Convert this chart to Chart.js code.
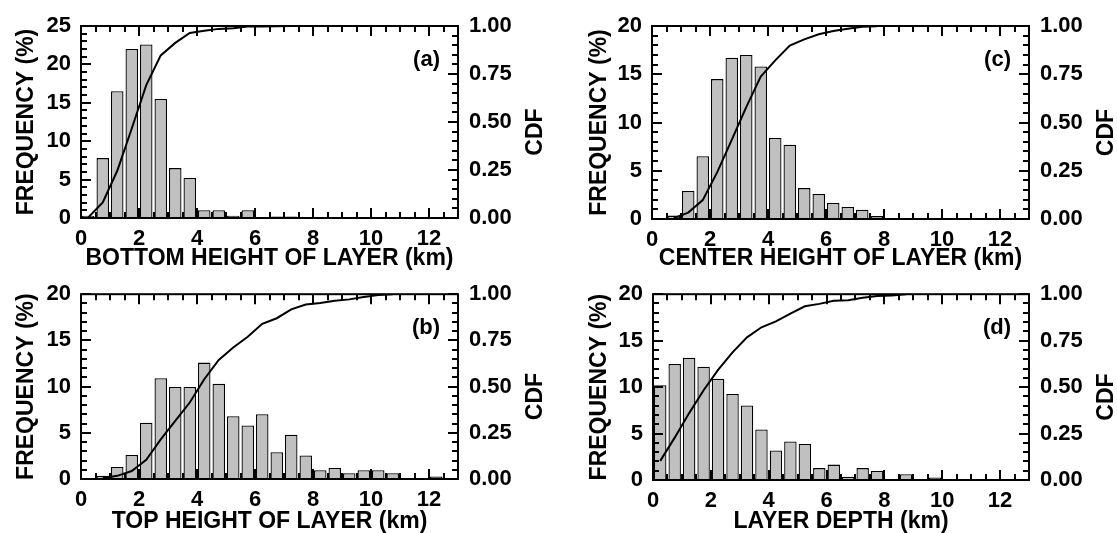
<!DOCTYPE html>
<html lang="en">
<head>
  <meta charset="UTF-8" />
  <title>Layer height histograms</title>
  <style>
    body {
      margin: 0;
      background: #fff;
      width: 1117px;
      height: 533px;
      position: relative;
      overflow: hidden;
    }
    canvas { position: absolute; }
    #panelA { left: 0; top: 0; }
    #panelC { left: 556px; top: 0; }
    #panelB { left: 0; top: 270px; }
    #panelD { left: 556px; top: 270px; }
  </style>
</head>
<body>
  <canvas id="panelA" width="556" height="270"></canvas>
  <canvas id="panelC" width="561" height="270"></canvas>
  <canvas id="panelB" width="556" height="263"></canvas>
  <canvas id="panelD" width="561" height="263"></canvas>

  <script src="https://cdn.jsdelivr.net/npm/chart.js"></script>
  <script>
// bin centres (0.5 km bins)
const binMid = [0.25, 0.75, 1.25, 1.75, 2.25, 2.75, 3.25, 3.75, 4.25, 4.75, 5.25, 5.75, 6.25,
                6.75, 7.25, 7.75, 8.25, 8.75, 9.25, 9.75, 10.25, 10.75, 11.25, 11.75, 12.25, 12.75];

// (a) bottom height
const freqA = [0.3, 7.8, 16.5, 22.0, 22.6, 15.5, 6.5, 5.2, 1.0, 1.0, 0.3, 1.0, null, 0.2, 0.2,
               null, null, null, null, null, null, null, null, null, null, null];
const cdfA  = [0.003, 0.081, 0.246, 0.466, 0.692, 0.847, 0.912, 0.964, 0.975, 0.985, 0.988, 0.997, 0.997, 0.999, 1.0,
               null, null, null, null, null, null, null, null, null, null, null];

// (c) center height
const freqC = [null, 0.35, 2.9, 6.5, 14.5, 16.7, 17.0, 15.8, 8.4, 7.7, 3.2, 2.6, 1.66, 1.25, 0.97, 0.3,
               null, null, null, null, null, null, null, null, null, null];
const cdfC  = [null, 0.004, 0.033, 0.098, 0.243, 0.41, 0.58, 0.738, 0.822, 0.899, 0.931, 0.957, 0.974, 0.986, 0.996, 0.999,
               null, null, null, null, null, null, null, null, null, null];

// (b) top height
const freqB = [null, 0.35, 1.3, 2.6, 6.1, 10.9, 9.95, 9.95, 12.6, 10.3, 6.8, 5.8, 7.0, 2.9, 4.8, 2.55,
               0.94, 1.2, 0.63, 0.94, 0.94, 0.63, null, null, 0.28, null];
const cdfB  = [null, 0.004, 0.017, 0.043, 0.104, 0.214, 0.314, 0.414, 0.54, 0.644, 0.712, 0.77, 0.84, 0.87, 0.918, 0.944,
               0.953, 0.965, 0.972, 0.985, 0.995, 1.0, null, null, null, null];

// (d) layer depth
const freqD = [10.2, 12.5, 13.15, 12.2, 10.9, 9.27, 8.03, 5.43, 3.18, 4.15, 3.88, 1.28, 1.66, 0.35, 1.28, 0.97,
               null, 0.62, null, 0.28, null, null, null, null, null, null];
const cdfD  = [0.103, 0.228, 0.36, 0.483, 0.593, 0.687, 0.768, 0.822, 0.854, 0.896, 0.935, 0.948, 0.965, 0.968, 0.981, 0.99,
               0.993, 1.0, null, null, null, null, null, null, null, null];

// tick labels
const xTicks = [0, 2, 4, 6, 8, 10, 12];
const freqTicks25 = [0, 5, 10, 15, 20, 25];
const freqTicks20 = [0, 5, 10, 15, 20];
const cdfTicks = [0, 0.25, 0.5, 0.75, 1];

const FONT = '"Liberation Sans", Arial, sans-serif';

// frame box, inward tick marks, right-hand CDF title and panel letter
const frameTicks = {
  id: 'frameTicks',
  afterDatasetsDraw(chart, args, opts) {
    const { ctx, chartArea: a } = chart;
    const { x, y, y1 } = chart.scales;
    ctx.save();
    ctx.strokeStyle = '#000';
    ctx.lineWidth = 2;
    ctx.beginPath();
    for (let v = 0; v <= 13.001; v += 0.5) {
      const px = Math.round(x.getPixelForValue(v));
      const len = (v % 2 === 0) ? 10 : 6;
      ctx.moveTo(px, a.bottom); ctx.lineTo(px, a.bottom - len);
      ctx.moveTo(px, a.top); ctx.lineTo(px, a.top + len);
    }
    for (let v = 0; v <= opts.yMax; v += 1) {
      const py = Math.round(y.getPixelForValue(v));
      const len = (v % 5 === 0) ? 10 : 6;
      ctx.moveTo(a.left, py); ctx.lineTo(a.left + len, py);
    }
    for (let i = 0; i <= 20; i++) {
      const py = Math.round(y1.getPixelForValue(i * 0.05));
      const len = (i % 5 === 0) ? 10 : 6;
      ctx.moveTo(a.right, py); ctx.lineTo(a.right - len, py);
    }
    ctx.stroke();
    ctx.strokeRect(a.left, a.top, a.right - a.left, a.bottom - a.top);

    ctx.fillStyle = '#000';
    ctx.font = 'bold 22px ' + FONT;
    ctx.textAlign = 'right';
    ctx.textBaseline = 'middle';
    ctx.fillText(opts.letter, a.right - 18, a.top + 34);

    ctx.font = 'bold 23px ' + FONT;
    ctx.translate(a.right + 78, (a.top + a.bottom) / 2 + 10);
    ctx.rotate(-Math.PI / 2);
    ctx.textAlign = 'center';
    ctx.fillText('CDF', 0, 0);
    ctx.restore();
  }
};

function setTicks(values) {
  return scale => { scale.ticks = values.map(v => ({ value: v })); };
}

function makePanel(id, freq, cdf, opt) {
  const canvas = document.getElementById(id);
  const W = canvas.width, H = canvas.height;
  return new Chart(canvas, {
    type: 'bar',
    data: {
      datasets: [
        {
          type: 'line',
          data: binMid.map((m, i) => ({ x: m, y: cdf[i] })),
          yAxisID: 'y1',
          borderColor: '#000',
          borderWidth: 2,
          pointRadius: 0,
          tension: 0,
          spanGaps: false
        },
        {
          type: 'bar',
          data: binMid.map((m, i) => ({ x: m, y: freq[i] })),
          yAxisID: 'y',
          backgroundColor: '#c0c0c0',
          borderColor: '#000',
          borderWidth: 1.3,
          borderSkipped: 'bottom',
          barPercentage: 0.86,
          categoryPercentage: 1
        }
      ]
    },
    options: {
      responsive: false,
      animation: false,
      devicePixelRatio: 1,
      layout: { autoPadding: false, padding: { top: opt.top, left: 0, right: 0, bottom: 0 } },
      plugins: {
        legend: { display: false },
        tooltip: { enabled: false },
        frameTicks: { letter: opt.letter, yMax: opt.yMax }
      },
      scales: {
        x: {
          type: 'linear',
          offset: false,
          min: 0,
          max: 13,
          afterBuildTicks: setTicks(xTicks),
          afterFit: s => { s.height = H - opt.bottom; },
          grid: { display: false, drawTicks: false },
          border: { display: false },
          ticks: { color: '#000', padding: 8, maxRotation: 0, font: { family: FONT, size: 22, weight: 'bold' } },
          title: {
            display: true, text: opt.xTitle, color: '#000',
            padding: { top: 0, bottom: 0 },
            font: { family: FONT, size: 23, weight: 'bold', lineHeight: 1 }
          }
        },
        y: {
          position: 'left',
          min: 0,
          max: opt.yMax,
          afterBuildTicks: setTicks(opt.yTicks),
          afterFit: s => { s.width = opt.left; },
          grid: { display: false, drawTicks: false },
          border: { display: false },
          ticks: { color: '#000', padding: 10, font: { family: FONT, size: 22, weight: 'bold' } },
          title: {
            display: true, text: 'FREQUENCY (%)', color: '#000',
            padding: { top: opt.titlePad, bottom: 0 },
            font: { family: FONT, size: 23, weight: 'bold', lineHeight: 1 }
          }
        },
        y1: {
          position: 'right',
          min: 0,
          max: 1,
          afterBuildTicks: setTicks(cdfTicks),
          afterFit: s => { s.width = W - opt.right; },
          grid: { display: false, drawTicks: false },
          border: { display: false },
          ticks: {
            color: '#000', padding: 11,
            font: { family: FONT, size: 22, weight: 'bold' },
            callback: v => v.toFixed(2)
          }
        }
      }
    },
    plugins: [frameTicks]
  });
}

makePanel('panelA', freqA, cdfA, {
  letter: '(a)', xTitle: 'BOTTOM HEIGHT OF LAYER (km)', yMax: 25, yTicks: freqTicks25,
  left: 81, right: 458, top: 26, bottom: 218, titlePad: 15
});
makePanel('panelC', freqC, cdfC, {
  letter: '(c)', xTitle: 'CENTER HEIGHT OF LAYER (km)', yMax: 20, yTicks: freqTicks20,
  left: 96, right: 473, top: 26, bottom: 219, titlePad: 32
});
makePanel('panelB', freqB, cdfB, {
  letter: '(b)', xTitle: 'TOP HEIGHT OF LAYER (km)', yMax: 20, yTicks: freqTicks20,
  left: 81, right: 458, top: 17, bottom: 209, titlePad: 15
});
makePanel('panelD', freqD, cdfD, {
  letter: '(d)', xTitle: 'LAYER DEPTH (km)', yMax: 20, yTicks: freqTicks20,
  left: 97, right: 473, top: 18, bottom: 210, titlePad: 32
});
  </script>
</body>
</html>
